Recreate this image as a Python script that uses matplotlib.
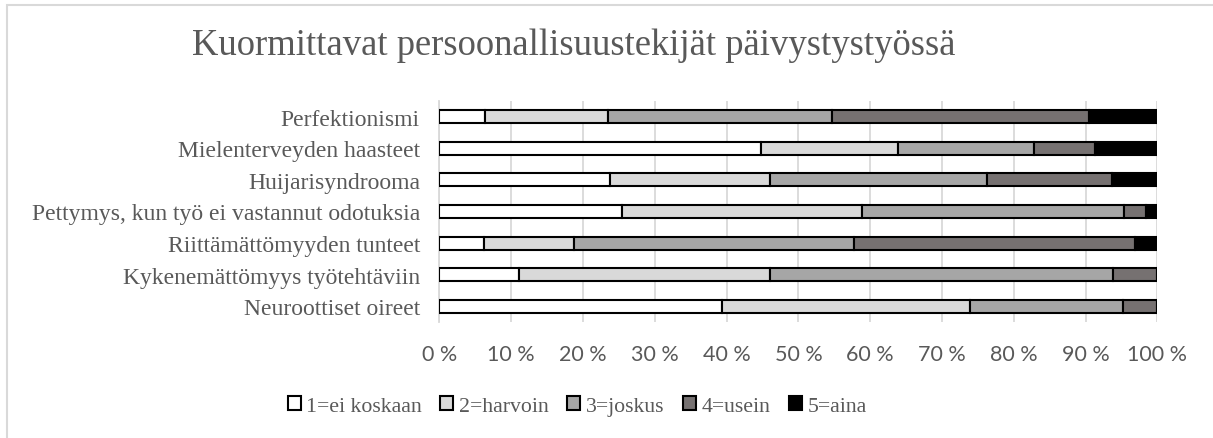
import matplotlib
matplotlib.use("Agg")
import matplotlib.pyplot as plt
import numpy as np
from matplotlib.patches import Rectangle
from matplotlib.ticker import FuncFormatter

# rows from top to bottom
categories = ["Perfektionismi",
              "Mielenterveyden haasteet",
              "Huijarisyndrooma",
              "Pettymys, kun työ ei vastannut odotuksia",
              "Riittämättömyyden tunteet",
              "Kykenemättömyys työtehtäviin",
              "Neuroottiset oireet"]
series = ["1=ei koskaan", "2=harvoin", "3=joskus", "4=usein", "5=aina"]

# shares in percent
ei_koskaan = [6.3, 44.8, 23.8, 25.5, 6.2, 11.1, 39.4]
harvoin = [17.2, 19.1, 22.3, 33.3, 12.6, 35.0, 34.5]
joskus = [31.2, 18.9, 30.2, 36.5, 39.0, 47.7, 21.3]
usein = [35.8, 8.5, 17.4, 3.1, 39.1, 6.2, 4.8]
aina = [9.5, 8.7, 6.3, 1.6, 3.1, 0.0, 0.0]

colors = ["#FFFFFF", "#D9D9D9", "#A6A6A6", "#767171", "#000000"]
text_col = "#595959"
serif = "Liberation Serif"

fig = plt.figure(figsize=(12.13, 4.39), dpi=100)
ax = fig.add_axes([0.3622, 0.2642, 0.5920, 0.5035])

data = [ei_koskaan, harvoin, joskus, usein, aina]
y = np.arange(len(categories))
left = np.zeros(len(categories))
for vals, name, col in zip(data, series, colors):
    vals = np.array(vals)
    ax.barh(y, vals, left=left, height=0.41, color=col, edgecolor="black",
            linewidth=1.5, label=name, zorder=3)
    left += vals

ax.set_ylim(-0.5, len(categories) - 0.5)
ax.invert_yaxis()
ax.set_xlim(0, 100)
ax.set_xticks(np.arange(0, 101, 10))
ax.xaxis.set_major_formatter(FuncFormatter(lambda v, p: f"{int(v)} %"))
ax.set_yticks(y)
ax.set_yticklabels(categories, fontfamily=serif, fontsize=17, color=text_col)
for lab in ax.get_xticklabels():
    lab.set_fontfamily("Lato")
    lab.set_fontsize(15.5)
    lab.set_color(text_col)
ax.tick_params(axis="both", length=0)
ax.tick_params(axis="y", pad=14)
ax.tick_params(axis="x", pad=16)
ax.grid(axis="x", color="#D9D9D9", linewidth=1.3, zorder=0)
for s in ["top", "right", "bottom"]:
    ax.spines[s].set_visible(False)
ax.spines["left"].set_color("#D9D9D9")
ax.spines["left"].set_linewidth(1.3)

fig.text(192 / 1213, 1 - 46 / 439, "Kuormittavat persoonallisuustekijät päivystystyössä",
         fontfamily=serif, fontsize=26.4, color=text_col, ha="left", va="center")

handles, labels = ax.get_legend_handles_labels()
leg = fig.legend(handles, labels, loc="center", bbox_to_anchor=(577 / 1213, 1 - 407 / 439),
                 ncol=5, frameon=False, handlelength=0.6, handleheight=0.6,
                 handletextpad=0.25, columnspacing=0.85,
                 prop={"family": serif, "size": 15.7})
for t in leg.get_texts():
    t.set_color(text_col)

# chart border, cropped on the right and bottom
fig.patches.append(Rectangle((7 / 1213, -0.1), 1.2, 1 - 6 / 439 + 0.1,
                             transform=fig.transFigure, fill=False,
                             edgecolor="#D9D9D9", linewidth=1.5))

fig.savefig("out.png", dpi=100)
